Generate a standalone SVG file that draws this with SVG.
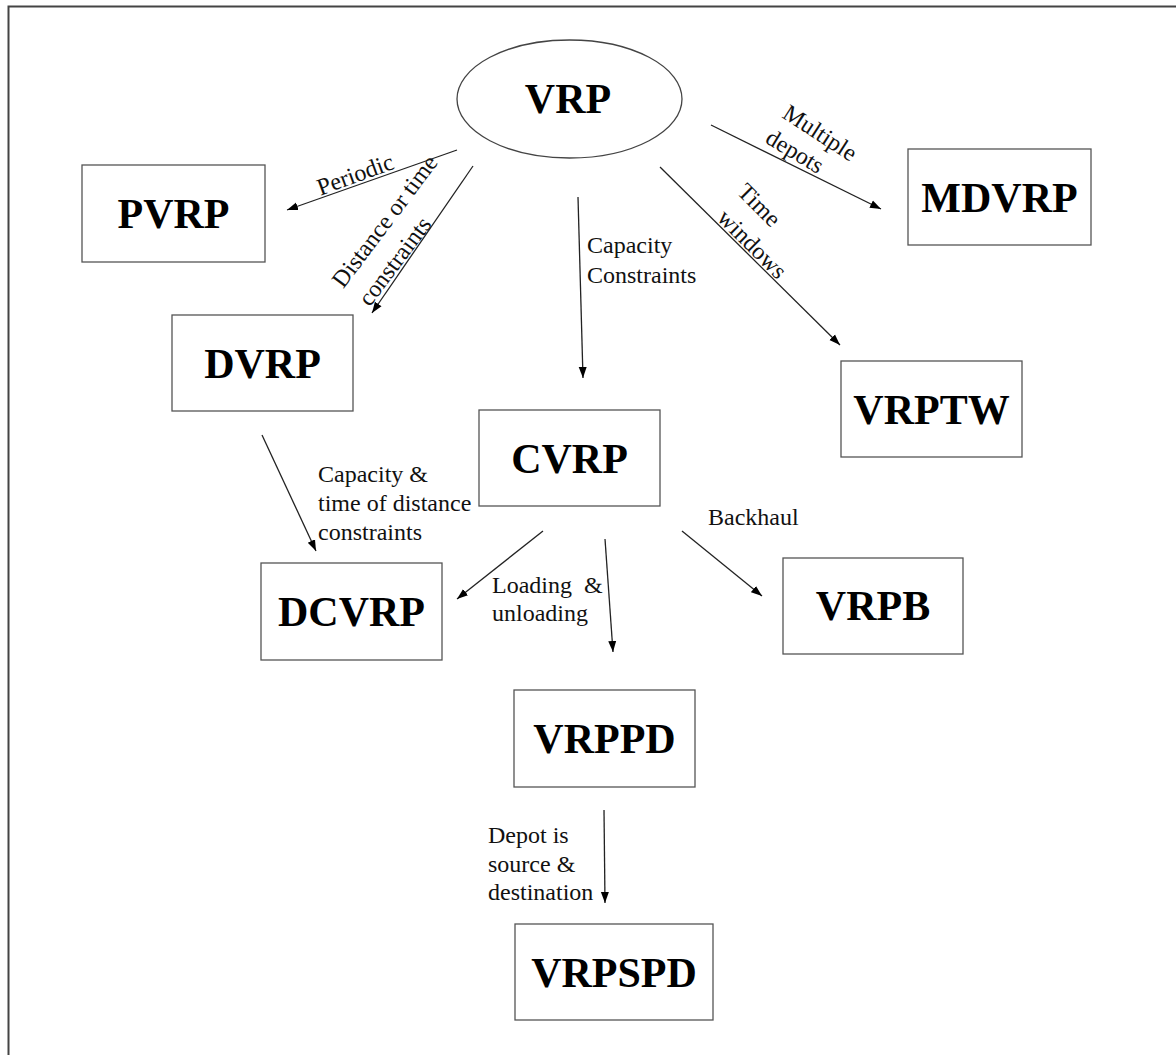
<svg xmlns="http://www.w3.org/2000/svg" width="1176" height="1055" viewBox="0 0 1176 1055">
<style>
.box{fill:#fff;stroke:#555;stroke-width:1.3}
.nt{font-family:"Liberation Serif",serif;font-weight:bold;font-size:42px;fill:#000;text-anchor:middle}
.lb{font-family:"Liberation Serif",serif;font-size:24px;fill:#111}
.cn{stroke:#222;stroke-width:1.3;fill:none;marker-end:url(#ah)}
</style>
<defs>
<marker id="ah" markerUnits="userSpaceOnUse" markerWidth="12" markerHeight="10" refX="11" refY="4" orient="auto" viewBox="0 0 12 8">
<path d="M0,0 L11,4 L0,8 z" fill="#000"/>
</marker>
</defs>
<rect x="0" y="0" width="1176" height="1055" fill="#fff"/>
<path d="M8.5,1055 L8.5,6.5 L1176,6.5" fill="none" stroke="#444" stroke-width="2"/>

<g id="VRP"><ellipse cx="569.5" cy="99" rx="112.5" ry="59" fill="#fff" stroke="#444" stroke-width="1.3"/><text class="nt" x="568" y="113">VRP</text></g>
<g id="PVRP"><rect class="box" x="82" y="165" width="183" height="97"/><text class="nt" x="173.5" y="228">PVRP</text></g>
<g id="MDVRP"><rect class="box" x="908" y="149" width="183" height="96"/><text class="nt" x="999.5" y="212">MDVRP</text></g>
<g id="DVRP"><rect class="box" x="172" y="315" width="181" height="96"/><text class="nt" x="262.5" y="378">DVRP</text></g>
<g id="CVRP"><rect class="box" x="479" y="410" width="181" height="96"/><text class="nt" x="569.5" y="473">CVRP</text></g>
<g id="VRPTW"><rect class="box" x="841" y="361" width="181" height="96"/><text class="nt" x="931.5" y="424">VRPTW</text></g>
<g id="DCVRP"><rect class="box" x="261" y="563" width="181" height="97"/><text class="nt" x="351.5" y="626">DCVRP</text></g>
<g id="VRPB"><rect class="box" x="783" y="558" width="180" height="96"/><text class="nt" x="873" y="620">VRPB</text></g>
<g id="VRPPD"><rect class="box" x="514" y="690" width="181" height="97"/><text class="nt" x="604.5" y="753">VRPPD</text></g>
<g id="VRPSPD"><rect class="box" x="515" y="924" width="198" height="96"/><text class="nt" x="614" y="987">VRPSPD</text></g>

<g id="connectors">
<line class="cn" x1="457" y1="150" x2="287" y2="210"/>
<line class="cn" x1="473" y1="166" x2="372" y2="313"/>
<line class="cn" x1="578" y1="197" x2="583" y2="378"/>
<line class="cn" x1="660" y1="167" x2="840" y2="345"/>
<line class="cn" x1="711" y1="125" x2="881" y2="209"/>
<line class="cn" x1="262" y1="435" x2="316" y2="551"/>
<line class="cn" x1="543" y1="531" x2="457" y2="599"/>
<line class="cn" x1="605" y1="539" x2="613" y2="652"/>
<line class="cn" x1="682" y1="531" x2="762" y2="596"/>
<line class="cn" x1="604" y1="810" x2="605" y2="903"/>
</g>

<g id="labels">
<text class="lb" text-anchor="middle" transform="translate(358,182) rotate(-20)">Periodic</text>
<text class="lb" text-anchor="middle" transform="translate(391,226) rotate(-53)">Distance or time</text>
<text class="lb" text-anchor="middle" transform="translate(401,266) rotate(-53)">constraints</text>
<text class="lb" x="587" y="253">Capacity</text>
<text class="lb" x="587" y="283">Constraints</text>
<text class="lb" transform="translate(736,193) rotate(45)">Time</text>
<text class="lb" transform="translate(716,219) rotate(45)">windows</text>
<text class="lb" transform="translate(781,117) rotate(33)">Multiple</text>
<text class="lb" transform="translate(764,142) rotate(31)">depots</text>
<text class="lb" x="318" y="482">Capacity &amp;</text>
<text class="lb" x="318" y="511">time of distance</text>
<text class="lb" x="318" y="540">constraints</text>
<text class="lb" x="492" y="593" xml:space="preserve">Loading  &amp;</text>
<text class="lb" x="492" y="621">unloading</text>
<text class="lb" x="708" y="525">Backhaul</text>
<text class="lb" x="488" y="843">Depot is</text>
<text class="lb" x="488" y="872">source &amp;</text>
<text class="lb" x="488" y="900">destination</text>
</g>
</svg>
